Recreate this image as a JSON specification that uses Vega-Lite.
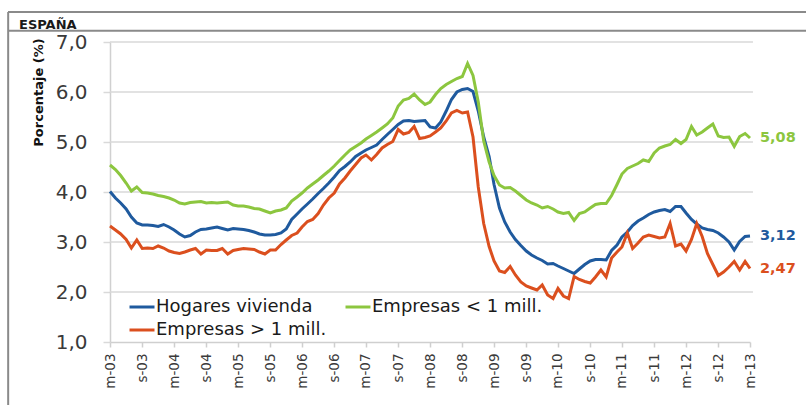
{
  "$schema": "https://vega.github.io/schema/vega-lite/v6.json",
  "width": 798,
  "height": 393,
  "autosize": {"type": "none"},
  "padding": {"left": 8, "top": 12, "right": 0, "bottom": 0},
  "background": "#ffffff",
  "title": {"text": "ESPAÑA", "anchor": "start", "frame": "group", "orient": "top", "offset": -31, "dx": 11, "baseline": "alphabetic", "font": "DejaVu Sans", "fontSize": 13, "fontWeight": "bold", "color": "#1a1a1a"},
  "config": {
    "view": {"stroke": null},
    "locale": {"number": {"decimal": ",", "thousands": ".", "grouping": [3], "currency": ["", " €"]}},
    "font": "DejaVu Sans",
    "axis": {"labelOverlap": false, "labelBound": false, "labelFlush": false},
    "axisX": {"labelOverlap": false, "labelBound": false, "labelFlush": false, "tickCount": 30}
  },
  "data": {"values": [
    {"d":"2003-03","s":"H","v":4.01},{"d":"2003-03","s":"P","v":4.54},{"d":"2003-03","s":"G","v":3.32},
    {"d":"2003-04","s":"H","v":3.88},{"d":"2003-04","s":"P","v":4.45},{"d":"2003-04","s":"G","v":3.24},
    {"d":"2003-05","s":"H","v":3.78},{"d":"2003-05","s":"P","v":4.33},{"d":"2003-05","s":"G","v":3.16},
    {"d":"2003-06","s":"H","v":3.66},{"d":"2003-06","s":"P","v":4.18},{"d":"2003-06","s":"G","v":3.05},
    {"d":"2003-07","s":"H","v":3.50},{"d":"2003-07","s":"P","v":4.02},{"d":"2003-07","s":"G","v":2.88},
    {"d":"2003-08","s":"H","v":3.38},{"d":"2003-08","s":"P","v":4.10},{"d":"2003-08","s":"G","v":3.04},
    {"d":"2003-09","s":"H","v":3.34},{"d":"2003-09","s":"P","v":3.99},{"d":"2003-09","s":"G","v":2.87},
    {"d":"2003-10","s":"H","v":3.34},{"d":"2003-10","s":"P","v":3.98},{"d":"2003-10","s":"G","v":2.88},
    {"d":"2003-11","s":"H","v":3.33},{"d":"2003-11","s":"P","v":3.96},{"d":"2003-11","s":"G","v":2.87},
    {"d":"2003-12","s":"H","v":3.31},{"d":"2003-12","s":"P","v":3.93},{"d":"2003-12","s":"G","v":2.92},
    {"d":"2004-01","s":"H","v":3.35},{"d":"2004-01","s":"P","v":3.91},{"d":"2004-01","s":"G","v":2.88},
    {"d":"2004-02","s":"H","v":3.30},{"d":"2004-02","s":"P","v":3.88},{"d":"2004-02","s":"G","v":2.82},
    {"d":"2004-03","s":"H","v":3.24},{"d":"2004-03","s":"P","v":3.84},{"d":"2004-03","s":"G","v":2.79},
    {"d":"2004-04","s":"H","v":3.16},{"d":"2004-04","s":"P","v":3.78},{"d":"2004-04","s":"G","v":2.77},
    {"d":"2004-05","s":"H","v":3.10},{"d":"2004-05","s":"P","v":3.76},{"d":"2004-05","s":"G","v":2.80},
    {"d":"2004-06","s":"H","v":3.13},{"d":"2004-06","s":"P","v":3.79},{"d":"2004-06","s":"G","v":2.84},
    {"d":"2004-07","s":"H","v":3.20},{"d":"2004-07","s":"P","v":3.80},{"d":"2004-07","s":"G","v":2.87},
    {"d":"2004-08","s":"H","v":3.25},{"d":"2004-08","s":"P","v":3.81},{"d":"2004-08","s":"G","v":2.76},
    {"d":"2004-09","s":"H","v":3.26},{"d":"2004-09","s":"P","v":3.78},{"d":"2004-09","s":"G","v":2.84},
    {"d":"2004-10","s":"H","v":3.28},{"d":"2004-10","s":"P","v":3.79},{"d":"2004-10","s":"G","v":2.83},
    {"d":"2004-11","s":"H","v":3.30},{"d":"2004-11","s":"P","v":3.78},{"d":"2004-11","s":"G","v":2.83},
    {"d":"2004-12","s":"H","v":3.27},{"d":"2004-12","s":"P","v":3.79},{"d":"2004-12","s":"G","v":2.87},
    {"d":"2005-01","s":"H","v":3.24},{"d":"2005-01","s":"P","v":3.80},{"d":"2005-01","s":"G","v":2.76},
    {"d":"2005-02","s":"H","v":3.27},{"d":"2005-02","s":"P","v":3.74},{"d":"2005-02","s":"G","v":2.83},
    {"d":"2005-03","s":"H","v":3.26},{"d":"2005-03","s":"P","v":3.72},{"d":"2005-03","s":"G","v":2.85},
    {"d":"2005-04","s":"H","v":3.25},{"d":"2005-04","s":"P","v":3.72},{"d":"2005-04","s":"G","v":2.87},
    {"d":"2005-05","s":"H","v":3.23},{"d":"2005-05","s":"P","v":3.70},{"d":"2005-05","s":"G","v":2.86},
    {"d":"2005-06","s":"H","v":3.20},{"d":"2005-06","s":"P","v":3.67},{"d":"2005-06","s":"G","v":2.85},
    {"d":"2005-07","s":"H","v":3.16},{"d":"2005-07","s":"P","v":3.66},{"d":"2005-07","s":"G","v":2.80},
    {"d":"2005-08","s":"H","v":3.14},{"d":"2005-08","s":"P","v":3.62},{"d":"2005-08","s":"G","v":2.76},
    {"d":"2005-09","s":"H","v":3.14},{"d":"2005-09","s":"P","v":3.58},{"d":"2005-09","s":"G","v":2.84},
    {"d":"2005-10","s":"H","v":3.15},{"d":"2005-10","s":"P","v":3.62},{"d":"2005-10","s":"G","v":2.84},
    {"d":"2005-11","s":"H","v":3.18},{"d":"2005-11","s":"P","v":3.64},{"d":"2005-11","s":"G","v":2.95},
    {"d":"2005-12","s":"H","v":3.26},{"d":"2005-12","s":"P","v":3.68},{"d":"2005-12","s":"G","v":3.04},
    {"d":"2006-01","s":"H","v":3.45},{"d":"2006-01","s":"P","v":3.82},{"d":"2006-01","s":"G","v":3.13},
    {"d":"2006-02","s":"H","v":3.56},{"d":"2006-02","s":"P","v":3.90},{"d":"2006-02","s":"G","v":3.18},
    {"d":"2006-03","s":"H","v":3.66},{"d":"2006-03","s":"P","v":3.98},{"d":"2006-03","s":"G","v":3.30},
    {"d":"2006-04","s":"H","v":3.76},{"d":"2006-04","s":"P","v":4.08},{"d":"2006-04","s":"G","v":3.41},
    {"d":"2006-05","s":"H","v":3.86},{"d":"2006-05","s":"P","v":4.16},{"d":"2006-05","s":"G","v":3.45},
    {"d":"2006-06","s":"H","v":3.97},{"d":"2006-06","s":"P","v":4.24},{"d":"2006-06","s":"G","v":3.57},
    {"d":"2006-07","s":"H","v":4.07},{"d":"2006-07","s":"P","v":4.33},{"d":"2006-07","s":"G","v":3.74},
    {"d":"2006-08","s":"H","v":4.18},{"d":"2006-08","s":"P","v":4.42},{"d":"2006-08","s":"G","v":3.88},
    {"d":"2006-09","s":"H","v":4.30},{"d":"2006-09","s":"P","v":4.52},{"d":"2006-09","s":"G","v":3.98},
    {"d":"2006-10","s":"H","v":4.43},{"d":"2006-10","s":"P","v":4.63},{"d":"2006-10","s":"G","v":4.16},
    {"d":"2006-11","s":"H","v":4.51},{"d":"2006-11","s":"P","v":4.74},{"d":"2006-11","s":"G","v":4.28},
    {"d":"2006-12","s":"H","v":4.60},{"d":"2006-12","s":"P","v":4.84},{"d":"2006-12","s":"G","v":4.42},
    {"d":"2007-01","s":"H","v":4.71},{"d":"2007-01","s":"P","v":4.91},{"d":"2007-01","s":"G","v":4.55},
    {"d":"2007-02","s":"H","v":4.78},{"d":"2007-02","s":"P","v":4.98},{"d":"2007-02","s":"G","v":4.68},
    {"d":"2007-03","s":"H","v":4.84},{"d":"2007-03","s":"P","v":5.06},{"d":"2007-03","s":"G","v":4.74},
    {"d":"2007-04","s":"H","v":4.89},{"d":"2007-04","s":"P","v":5.13},{"d":"2007-04","s":"G","v":4.64},
    {"d":"2007-05","s":"H","v":4.94},{"d":"2007-05","s":"P","v":5.20},{"d":"2007-05","s":"G","v":4.75},
    {"d":"2007-06","s":"H","v":5.05},{"d":"2007-06","s":"P","v":5.28},{"d":"2007-06","s":"G","v":4.88},
    {"d":"2007-07","s":"H","v":5.15},{"d":"2007-07","s":"P","v":5.36},{"d":"2007-07","s":"G","v":4.95},
    {"d":"2007-08","s":"H","v":5.25},{"d":"2007-08","s":"P","v":5.48},{"d":"2007-08","s":"G","v":5.01},
    {"d":"2007-09","s":"H","v":5.35},{"d":"2007-09","s":"P","v":5.72},{"d":"2007-09","s":"G","v":5.25},
    {"d":"2007-10","s":"H","v":5.42},{"d":"2007-10","s":"P","v":5.84},{"d":"2007-10","s":"G","v":5.16},
    {"d":"2007-11","s":"H","v":5.43},{"d":"2007-11","s":"P","v":5.87},{"d":"2007-11","s":"G","v":5.19},
    {"d":"2007-12","s":"H","v":5.41},{"d":"2007-12","s":"P","v":5.96},{"d":"2007-12","s":"G","v":5.31},
    {"d":"2008-01","s":"H","v":5.42},{"d":"2008-01","s":"P","v":5.84},{"d":"2008-01","s":"G","v":5.07},
    {"d":"2008-02","s":"H","v":5.43},{"d":"2008-02","s":"P","v":5.75},{"d":"2008-02","s":"G","v":5.09},
    {"d":"2008-03","s":"H","v":5.30},{"d":"2008-03","s":"P","v":5.80},{"d":"2008-03","s":"G","v":5.12},
    {"d":"2008-04","s":"H","v":5.28},{"d":"2008-04","s":"P","v":5.95},{"d":"2008-04","s":"G","v":5.20},
    {"d":"2008-05","s":"H","v":5.40},{"d":"2008-05","s":"P","v":6.07},{"d":"2008-05","s":"G","v":5.28},
    {"d":"2008-06","s":"H","v":5.62},{"d":"2008-06","s":"P","v":6.15},{"d":"2008-06","s":"G","v":5.42},
    {"d":"2008-07","s":"H","v":5.85},{"d":"2008-07","s":"P","v":6.21},{"d":"2008-07","s":"G","v":5.58},
    {"d":"2008-08","s":"H","v":6.00},{"d":"2008-08","s":"P","v":6.27},{"d":"2008-08","s":"G","v":5.63},
    {"d":"2008-09","s":"H","v":6.05},{"d":"2008-09","s":"P","v":6.31},{"d":"2008-09","s":"G","v":5.58},
    {"d":"2008-10","s":"H","v":6.07},{"d":"2008-10","s":"P","v":6.57},{"d":"2008-10","s":"G","v":5.60},
    {"d":"2008-11","s":"H","v":6.01},{"d":"2008-11","s":"P","v":6.33},{"d":"2008-11","s":"G","v":5.10},
    {"d":"2008-12","s":"H","v":5.62},{"d":"2008-12","s":"P","v":5.80},{"d":"2008-12","s":"G","v":4.10},
    {"d":"2009-01","s":"H","v":5.10},{"d":"2009-01","s":"P","v":5.02},{"d":"2009-01","s":"G","v":3.37},
    {"d":"2009-02","s":"H","v":4.71},{"d":"2009-02","s":"P","v":4.60},{"d":"2009-02","s":"G","v":2.91},
    {"d":"2009-03","s":"H","v":4.15},{"d":"2009-03","s":"P","v":4.33},{"d":"2009-03","s":"G","v":2.62},
    {"d":"2009-04","s":"H","v":3.68},{"d":"2009-04","s":"P","v":4.14},{"d":"2009-04","s":"G","v":2.42},
    {"d":"2009-05","s":"H","v":3.40},{"d":"2009-05","s":"P","v":4.08},{"d":"2009-05","s":"G","v":2.39},
    {"d":"2009-06","s":"H","v":3.20},{"d":"2009-06","s":"P","v":4.09},{"d":"2009-06","s":"G","v":2.51},
    {"d":"2009-07","s":"H","v":3.05},{"d":"2009-07","s":"P","v":4.02},{"d":"2009-07","s":"G","v":2.34},
    {"d":"2009-08","s":"H","v":2.93},{"d":"2009-08","s":"P","v":3.93},{"d":"2009-08","s":"G","v":2.20},
    {"d":"2009-09","s":"H","v":2.82},{"d":"2009-09","s":"P","v":3.84},{"d":"2009-09","s":"G","v":2.12},
    {"d":"2009-10","s":"H","v":2.74},{"d":"2009-10","s":"P","v":3.78},{"d":"2009-10","s":"G","v":2.08},
    {"d":"2009-11","s":"H","v":2.68},{"d":"2009-11","s":"P","v":3.74},{"d":"2009-11","s":"G","v":2.04},
    {"d":"2009-12","s":"H","v":2.63},{"d":"2009-12","s":"P","v":3.68},{"d":"2009-12","s":"G","v":2.14},
    {"d":"2010-01","s":"H","v":2.56},{"d":"2010-01","s":"P","v":3.71},{"d":"2010-01","s":"G","v":1.94},
    {"d":"2010-02","s":"H","v":2.57},{"d":"2010-02","s":"P","v":3.66},{"d":"2010-02","s":"G","v":1.87},
    {"d":"2010-03","s":"H","v":2.52},{"d":"2010-03","s":"P","v":3.60},{"d":"2010-03","s":"G","v":2.07},
    {"d":"2010-04","s":"H","v":2.47},{"d":"2010-04","s":"P","v":3.57},{"d":"2010-04","s":"G","v":1.92},
    {"d":"2010-05","s":"H","v":2.42},{"d":"2010-05","s":"P","v":3.59},{"d":"2010-05","s":"G","v":1.87},
    {"d":"2010-06","s":"H","v":2.37},{"d":"2010-06","s":"P","v":3.43},{"d":"2010-06","s":"G","v":2.31},
    {"d":"2010-07","s":"H","v":2.46},{"d":"2010-07","s":"P","v":3.57},{"d":"2010-07","s":"G","v":2.25},
    {"d":"2010-08","s":"H","v":2.55},{"d":"2010-08","s":"P","v":3.60},{"d":"2010-08","s":"G","v":2.21},
    {"d":"2010-09","s":"H","v":2.62},{"d":"2010-09","s":"P","v":3.68},{"d":"2010-09","s":"G","v":2.18},
    {"d":"2010-10","s":"H","v":2.65},{"d":"2010-10","s":"P","v":3.75},{"d":"2010-10","s":"G","v":2.30},
    {"d":"2010-11","s":"H","v":2.65},{"d":"2010-11","s":"P","v":3.77},{"d":"2010-11","s":"G","v":2.44},
    {"d":"2010-12","s":"H","v":2.64},{"d":"2010-12","s":"P","v":3.77},{"d":"2010-12","s":"G","v":2.30},
    {"d":"2011-01","s":"H","v":2.83},{"d":"2011-01","s":"P","v":3.93},{"d":"2011-01","s":"G","v":2.68},
    {"d":"2011-02","s":"H","v":2.94},{"d":"2011-02","s":"P","v":4.15},{"d":"2011-02","s":"G","v":2.80},
    {"d":"2011-03","s":"H","v":3.10},{"d":"2011-03","s":"P","v":4.36},{"d":"2011-03","s":"G","v":2.90},
    {"d":"2011-04","s":"H","v":3.20},{"d":"2011-04","s":"P","v":4.47},{"d":"2011-04","s":"G","v":3.18},
    {"d":"2011-05","s":"H","v":3.33},{"d":"2011-05","s":"P","v":4.52},{"d":"2011-05","s":"G","v":2.87},
    {"d":"2011-06","s":"H","v":3.42},{"d":"2011-06","s":"P","v":4.57},{"d":"2011-06","s":"G","v":2.98},
    {"d":"2011-07","s":"H","v":3.48},{"d":"2011-07","s":"P","v":4.64},{"d":"2011-07","s":"G","v":3.10},
    {"d":"2011-08","s":"H","v":3.55},{"d":"2011-08","s":"P","v":4.61},{"d":"2011-08","s":"G","v":3.14},
    {"d":"2011-09","s":"H","v":3.60},{"d":"2011-09","s":"P","v":4.78},{"d":"2011-09","s":"G","v":3.11},
    {"d":"2011-10","s":"H","v":3.63},{"d":"2011-10","s":"P","v":4.88},{"d":"2011-10","s":"G","v":3.08},
    {"d":"2011-11","s":"H","v":3.65},{"d":"2011-11","s":"P","v":4.92},{"d":"2011-11","s":"G","v":3.10},
    {"d":"2011-12","s":"H","v":3.61},{"d":"2011-12","s":"P","v":4.95},{"d":"2011-12","s":"G","v":3.37},
    {"d":"2012-01","s":"H","v":3.71},{"d":"2012-01","s":"P","v":5.05},{"d":"2012-01","s":"G","v":2.92},
    {"d":"2012-02","s":"H","v":3.71},{"d":"2012-02","s":"P","v":4.97},{"d":"2012-02","s":"G","v":2.96},
    {"d":"2012-03","s":"H","v":3.58},{"d":"2012-03","s":"P","v":5.05},{"d":"2012-03","s":"G","v":2.82},
    {"d":"2012-04","s":"H","v":3.45},{"d":"2012-04","s":"P","v":5.31},{"d":"2012-04","s":"G","v":3.05},
    {"d":"2012-05","s":"H","v":3.36},{"d":"2012-05","s":"P","v":5.14},{"d":"2012-05","s":"G","v":3.37},
    {"d":"2012-06","s":"H","v":3.28},{"d":"2012-06","s":"P","v":5.20},{"d":"2012-06","s":"G","v":3.11},
    {"d":"2012-07","s":"H","v":3.25},{"d":"2012-07","s":"P","v":5.28},{"d":"2012-07","s":"G","v":2.77},
    {"d":"2012-08","s":"H","v":3.23},{"d":"2012-08","s":"P","v":5.36},{"d":"2012-08","s":"G","v":2.55},
    {"d":"2012-09","s":"H","v":3.18},{"d":"2012-09","s":"P","v":5.12},{"d":"2012-09","s":"G","v":2.33},
    {"d":"2012-10","s":"H","v":3.10},{"d":"2012-10","s":"P","v":5.09},{"d":"2012-10","s":"G","v":2.40},
    {"d":"2012-11","s":"H","v":3.00},{"d":"2012-11","s":"P","v":5.10},{"d":"2012-11","s":"G","v":2.50},
    {"d":"2012-12","s":"H","v":2.84},{"d":"2012-12","s":"P","v":4.91},{"d":"2012-12","s":"G","v":2.61},
    {"d":"2013-01","s":"H","v":3.01},{"d":"2013-01","s":"P","v":5.11},{"d":"2013-01","s":"G","v":2.44},
    {"d":"2013-02","s":"H","v":3.11},{"d":"2013-02","s":"P","v":5.17},{"d":"2013-02","s":"G","v":2.61},
    {"d":"2013-03","s":"H","v":3.12},{"d":"2013-03","s":"P","v":5.08},{"d":"2013-03","s":"G","v":2.47}
  ]},
  "layer": [
    {
      "data": {"values": [{"g": 2}, {"g": 3}, {"g": 4}, {"g": 5}, {"g": 6}, {"g": 7}]},
      "mark": {"type": "rule", "color": "#d9d9d9", "strokeWidth": 1.5},
      "encoding": {
        "y": {"field": "g", "type": "quantitative", "scale": {"domain": [1, 7], "range": [330, 30], "nice": false, "zero": false}},
        "x": {"datum": {"year": 2003, "month": 3, "date": 1, "utc": true}, "type": "temporal", "scale": {"type": "utc", "domain": [{"year": 2003, "month": 3, "date": 1, "utc": true}, {"year": 2013, "month": 3, "date": 1, "utc": true}], "range": [102, 742], "nice": false}},
        "x2": {"datum": {"year": 2013, "month": 3, "date": 18, "utc": true}}
      }
    },
    {
      "data": {"values": [{"b": 7.226}, {"b": 7.6}]},
      "mark": {"type": "rule", "color": "#8a8a8a", "strokeWidth": 2},
      "encoding": {"y": {"field": "b", "type": "quantitative"}}
    },
    {
      "data": {"values": [{}]},
      "mark": {"type": "rule", "color": "#8a8a8a", "strokeWidth": 2},
      "encoding": {"x": {"datum": {"year": 2001, "month": 7, "date": 27, "hours": 18, "utc": true}, "type": "temporal"}}
    },
    {
      "mark": {"type": "line", "strokeWidth": 3},
      "encoding": {
        "x": {
          "field": "d", "type": "temporal",
          "scale": {"type": "utc", "domain": [{"year": 2003, "month": 3, "date": 1, "utc": true}, {"year": 2013, "month": 3, "date": 1, "utc": true}], "range": [102, 742], "nice": false},
          "axis": {
            "orient": "bottom", "offset": -63, "title": null, "grid": false, "tickCount": 30,
            "values": [1046476800000, 1062374400000, 1078099200000, 1093996800000, 1109635200000, 1125532800000, 1141171200000, 1157068800000, 1172707200000, 1188604800000, 1204329600000, 1220227200000, 1235865600000, 1251763200000, 1267401600000, 1283299200000, 1298937600000, 1314835200000, 1330560000000, 1346457600000, 1362096000000],
            "labelExpr": "(utcmonth(datum.value) == 2 ? 'm-' : 's-') + utcFormat(datum.value, '%y')",
            "labelAngle": -90, "labelAlign": "right", "labelBaseline": "middle",
            "labelFont": "DejaVu Sans", "labelFontSize": 13.5, "labelColor": "#3a3a3a",
            "labelOverlap": false, "labelFlush": false, "labelBound": false, "labelPadding": 6,
            "tickSize": 5, "tickColor": "#cfcfcf", "tickWidth": 1.5,
            "domainColor": "#cfcfcf", "domainWidth": 1.5
          }
        },
        "y": {
          "field": "v", "type": "quantitative",
          "scale": {"domain": [1, 7], "range": [330, 30], "nice": false, "zero": false},
          "axis": {
            "orient": "left", "offset": -102, "grid": false, "tickCount": 10,
            "values": [1, 2, 3, 4, 5, 6, 7], "format": ".1f",
            "labelExpr": "replace(format(datum.value, '.1f'), '.', ',')",
            "labelFont": "DejaVu Sans", "labelFontSize": 20, "labelColor": "#3a3a3a", "labelPadding": 16,
            "tickSize": 7, "tickColor": "#d9d9d9", "tickWidth": 1.5,
            "domainColor": "#d0d0d0", "domainWidth": 1.5,
            "title": "Porcentaje (%)", "titleFont": "DejaVu Sans", "titleFontSize": 13, "titleFontWeight": "bold", "titleColor": "#111111",
            "titleAngle": -90, "titleAlign": "center", "titleBaseline": "middle", "titleX": -72, "titleY": 80
          }
        },
        "color": {
          "field": "s", "type": "nominal",
          "scale": {"domain": ["H", "P", "G"], "range": ["#1f5a9e", "#8cc63f", "#db4f1e"]},
          "legend": {
            "orient": "none", "legendX": 120, "legendY": 281, "direction": "horizontal", "columns": 2,
            "title": null, "symbolType": "stroke", "symbolSize": 625, "symbolStrokeWidth": 3,
            "labelFont": "DejaVu Sans", "labelFontSize": 18, "labelColor": "#1a1a1a", "labelLimit": 400,
            "columnPadding": 12, "rowPadding": 0, "labelOffset": 0, "padding": 0,
            "labelExpr": "datum.label == 'H' ? 'Hogares vivienda' : datum.label == 'P' ? 'Empresas < 1 mill.' : 'Empresas > 1 mill.'"
          }
        }
      }
    },
    {
      "transform": [{"filter": "utcyear(datum.d) == 2013 && utcmonth(datum.d) == 2"}],
      "mark": {"type": "text", "align": "left", "baseline": "middle", "dx": 10, "font": "DejaVu Sans", "fontWeight": "bold", "fontSize": 14.5},
      "encoding": {
        "x": {"field": "d", "type": "temporal"},
        "y": {"field": "v", "type": "quantitative"},
        "text": {"field": "v", "type": "quantitative", "format": ".2f"},
        "color": {"field": "s", "type": "nominal"}
      }
    }
  ]
}
